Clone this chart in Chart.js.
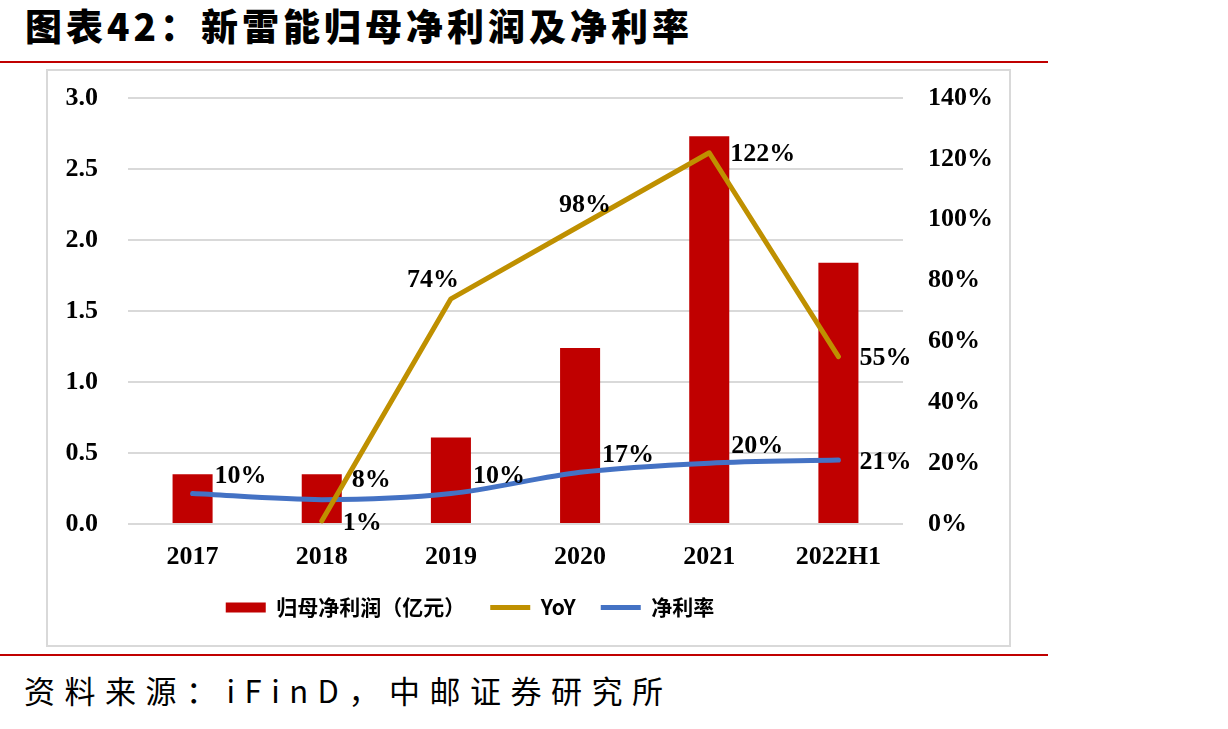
<!DOCTYPE html>
<html>
<head>
<meta charset="utf-8">
<script src="https://cdn.jsdelivr.net/npm/chart.js@4/dist/chart.umd.min.js"></script>
<style>
  html, body { margin: 0; padding: 0; background: #fff; }
  body { width: 1228px; height: 729px; position: relative; overflow: hidden; }
  #title { position: absolute; left: 25px; top: 0px; font-family: "Noto Sans CJK SC"; font-weight: 900; font-size: 37px; letter-spacing: 4px; color: #000; line-height: 50px; white-space: nowrap; }
  .redline { position: absolute; left: 0; width: 1048px; height: 2px; background: #C00000; }
  #box { position: absolute; left: 46px; top: 69px; width: 961px; height: 574px; border: 2px solid #D9D9D9; }
  #wrap { position: absolute; left: 47px; top: 70px; width: 962px; height: 575px; }
  #footer { position: absolute; left: 24px; top: 665px; font-family: "Noto Sans CJK SC"; font-weight: 400; font-size: 31px; letter-spacing: 9.5px; color: #000; line-height: 50px; white-space: nowrap; }
</style>
</head>
<body>
<div id="title">图表42：新雷能归母净利润及净利率</div>
<div class="redline" style="top:61px"></div>
<div id="box"></div>
<div id="wrap"><canvas id="c" width="962" height="575"></canvas></div>
<div class="redline" style="top:654px"></div>
<div id="footer">资料来源：iFinD，中邮证券研究所</div>
<script>
// ---- data ----
const categories = ['2017', '2018', '2019', '2020', '2021', '2022H1'];
const netProfit = [0.35, 0.35, 0.61, 1.24, 2.73, 1.84];      // 归母净利润（亿元）
const yoy = [null, 1, 74, 98, 122, 55];                       // YoY (%)
const netMargin = [10, 8, 10, 17, 20, 21];                    // 净利率 (%)
const leftTicks = [0, 0.5, 1.0, 1.5, 2.0, 2.5, 3.0];
const rightTicks = [0, 20, 40, 60, 80, 100, 120, 140];

// label placement (style, not data)
const yoyLabelPos = [null, 'right', 'aboveleft', 'above', 'right', 'right'];
const marginLabelPos = ['upright', 'uprightfar', 'upright', 'upright', 'upright', 'right'];

const valueLabels = {
  id: 'valueLabels',
  afterDatasetsDraw(chart) {
    const ctx = chart.ctx;
    ctx.save();
    ctx.font = 'bold 26px "Liberation Serif"';
    ctx.fillStyle = '#000';
    ctx.textBaseline = 'middle';
    chart.data.datasets.forEach((ds, di) => {
      const pos = ds.labelPos;
      if (!pos) return;
      const meta = chart.getDatasetMeta(di);
      meta.data.forEach((el, i) => {
        const v = ds.data[i];
        if (v === null || v === undefined || !pos[i]) return;
        const { x, y } = el.getProps(['x', 'y'], true);
        const text = v + '%';
        let tx = x, ty = y;
        switch (pos[i]) {
          case 'right': ctx.textAlign = 'left'; tx = x + 21; ty = y + 2; break;
          case 'upright': ctx.textAlign = 'left'; tx = x + 22; ty = y - 17; break;
          case 'uprightfar': ctx.textAlign = 'left'; tx = x + 30; ty = y - 19; break;
          case 'above': ctx.textAlign = 'center'; tx = x + 5; ty = y - 21; break;
          case 'aboveleft': ctx.textAlign = 'center'; tx = x - 18; ty = y - 19; break;
        }
        ctx.fillText(text, tx, ty);
      });
    });
    ctx.restore();
  }
};

// keep the legend centred a little left of the canvas centre, as in the source
const legendOffset = {
  id: 'legendOffset',
  afterLayout(chart) {
    if (chart.legend) { chart.legend.right -= 116; }
  }
};

const tickFont = { family: '"Liberation Serif"', size: 26, weight: 'bold' };

new Chart(document.getElementById('c'), {
  type: 'bar',
  data: {
    labels: categories,
    datasets: [
      {
        type: 'bar',
        label: '归母净利润（亿元）',
        data: netProfit,
        backgroundColor: '#C00000',
        borderWidth: 0,
        yAxisID: 'y',
        order: 3,
        categoryPercentage: 0.31,
        barPercentage: 1.0,
        pointStyle: 'rect'
      },
      {
        type: 'line',
        label: 'YoY',
        data: yoy,
        borderColor: '#BF9000',
        backgroundColor: '#BF9000',
        borderWidth: 5,
        borderCapStyle: 'round',
        borderJoinStyle: 'round',
        pointRadius: 0,
        tension: 0,
        yAxisID: 'y1',
        order: 1,
        pointStyle: 'line',
        labelPos: yoyLabelPos
      },
      {
        type: 'line',
        label: '净利率',
        data: netMargin,
        borderColor: '#4472C4',
        backgroundColor: '#4472C4',
        borderWidth: 5,
        borderCapStyle: 'round',
        borderJoinStyle: 'round',
        pointRadius: 0,
        tension: 0.3,
        yAxisID: 'y1',
        order: 2,
        pointStyle: 'line',
        labelPos: marginLabelPos
      }
    ]
  },
  options: {
    responsive: false,
    animation: false,
    devicePixelRatio: 1,
    layout: { autoPadding: false, padding: { top: 28, bottom: 17, left: 0, right: 0 } },
    plugins: {
      tooltip: { enabled: false },
      legend: {
        position: 'bottom',
        labels: {
          usePointStyle: true,
          pointStyleWidth: 40,
          boxHeight: 10,
          padding: 25,
          color: '#000',
          font: { family: '"Noto Sans CJK SC"', size: 21, weight: 'bold' },
          sort: (a, b) => a.datasetIndex - b.datasetIndex
        }
      }
    },
    scales: {
      x: {
        grid: { display: false, drawTicks: false },
        border: { display: false },
        ticks: { color: '#000', font: tickFont, padding: 18, maxRotation: 0 },
        afterFit: (s) => { s.height = 48; s.paddingLeft = 0; s.paddingRight = 0; }
      },
      y: {
        position: 'left',
        min: 0, max: 3,
        afterBuildTicks: (s) => { s.ticks = leftTicks.map(v => ({ value: v })); },
        grid: { color: '#D9D9D9', lineWidth: 2, drawTicks: false },
        border: { display: false },
        ticks: { color: '#000', font: tickFont, padding: 30, callback: (v) => Number(v).toFixed(1) },
        afterFit: (s) => { s.width = 81; s.paddingTop = 0; s.paddingBottom = 0; }
      },
      y1: {
        position: 'right',
        min: 0, max: 140,
        afterBuildTicks: (s) => { s.ticks = rightTicks.map(v => ({ value: v })); },
        grid: { display: false, drawTicks: false },
        border: { display: false },
        ticks: { color: '#000', font: tickFont, padding: 25, callback: (v) => v + '%' },
        afterFit: (s) => { s.width = 106; s.paddingTop = 0; s.paddingBottom = 0; }
      }
    }
  },
  plugins: [valueLabels, legendOffset]
});
</script>
</body>
</html>
